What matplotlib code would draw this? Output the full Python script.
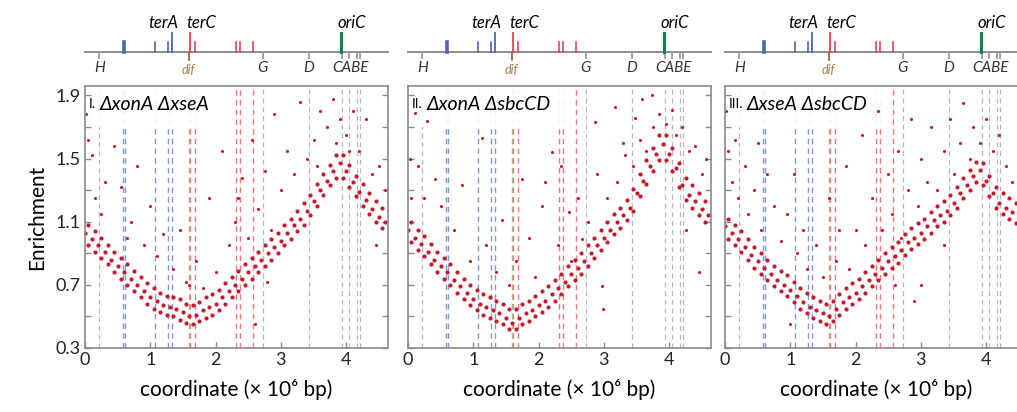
import matplotlib
matplotlib.use("Agg")
import matplotlib.pyplot as plt
from matplotlib.patches import Rectangle

plt.rcParams['font.family'] = ['Lato', 'DejaVu Sans']

# genome coordinate grid (x 10^6 bp) used for the main band
coord = [0.0, 0.1, 0.2, 0.3, 0.4, 0.5, 0.6, 0.7, 0.8, 0.9, 1.0, 1.1, 1.2, 1.3, 1.4, 1.5,
         1.6, 1.7, 1.8, 1.9, 2.0, 2.1, 2.2, 2.3, 2.4, 2.5, 2.6, 2.7, 2.8, 2.9, 3.0, 3.1,
         3.2, 3.3, 3.4, 3.5, 3.6, 3.7, 3.8, 3.9, 4.0, 4.1, 4.2, 4.3, 4.4, 4.5, 4.6]
coord_half = [0.05, 0.15, 0.25, 0.35, 0.45, 0.55, 0.65, 0.75, 0.85, 0.95, 1.05, 1.15,
              1.25, 1.35, 1.45, 1.55, 1.65, 1.75, 1.85, 1.95, 2.05, 2.15, 2.25, 2.35,
              2.45, 2.55, 2.65, 2.75, 2.85, 2.95, 3.05, 3.15, 3.25, 3.35, 3.45, 3.55,
              3.65, 3.75, 3.85, 3.95, 4.05, 4.15, 4.25, 4.35, 4.45, 4.55]

# panel I  (xonA xseA)
mid1 = [1.03, 0.99, 0.95, 0.91, 0.86, 0.82, 0.78, 0.74, 0.70, 0.66, 0.62, 0.60, 0.57, 0.56, 0.55, 0.53,
        0.50, 0.51, 0.54, 0.56, 0.58, 0.62, 0.66, 0.70, 0.74, 0.78, 0.82, 0.86, 0.90, 0.94, 0.98, 1.03,
        1.08, 1.12, 1.17, 1.23, 1.30, 1.36, 1.42, 1.47, 1.42, 1.35, 1.29, 1.24, 1.18, 1.13, 1.10]
lo1 = [0.95, 0.91, 0.87, 0.83, 0.78, 0.74, 0.70, 0.66, 0.62, 0.58, 0.55, 0.53, 0.51, 0.50, 0.48, 0.46,
       0.45, 0.47, 0.49, 0.51, 0.54, 0.58, 0.62, 0.66, 0.70, 0.74, 0.78, 0.82, 0.86, 0.90, 0.95, 0.99,
       1.04, 1.08, 1.14, 1.20, 1.27, 1.33, 1.38, 1.38, 1.32, 1.26, 1.20, 1.15, 1.10, 1.06]
hi1 = [1.08, 1.04, 1.00, 0.95, 0.91, 0.87, 0.83, 0.79, 0.75, 0.71, 0.68, 0.65, 0.63, 0.62, 0.61, 0.58,
       0.57, 0.59, 0.62, 0.64, 0.67, 0.71, 0.75, 0.79, 0.83, 0.87, 0.91, 0.95, 0.99, 1.03, 1.08, 1.12,
       1.17, 1.22, 1.27, 1.34, 1.40, 1.46, 1.52, 1.52, 1.46, 1.39, 1.34, 1.28, 1.23, 1.19]
out_x1 = [0.02, 0.05, 0.10, 0.15, 0.30, 0.45, 0.55, 0.70, 0.80, 0.90, 1.00, 1.10, 1.20, 1.35, 1.45,
          1.55, 1.70, 1.80, 1.90, 2.00, 2.10, 2.20, 2.30, 2.40, 2.50, 2.55, 2.65, 2.75, 2.85, 2.90,
          3.00, 3.10, 3.20, 3.30, 3.40, 3.50, 3.60, 3.70, 3.80, 3.90, 4.00, 4.10, 4.20, 4.30, 4.40,
          4.50, 4.60, 2.78, 2.60, 4.45, 0.25, 0.65, 1.60, 2.35, 3.55, 3.85, 4.05]
out_y1 = [1.78, 1.62, 1.52, 1.25, 1.35, 1.58, 1.32, 1.10, 1.45, 0.95, 1.20, 0.88, 1.02, 0.80, 1.05,
          0.72, 0.85, 0.68, 1.25, 0.78, 1.55, 0.95, 1.10, 1.38, 1.00, 1.62, 1.18, 1.42, 1.05, 1.78,
          1.30, 1.55, 1.40, 1.86, 1.50, 1.62, 1.80, 1.70, 1.88, 1.75, 1.65, 1.80, 1.55, 1.75, 1.40,
          1.45, 1.30, 0.72, 0.45, 0.95, 1.15, 1.00, 0.70, 1.25, 1.45, 1.60, 1.55]

# panel II  (xonA sbcCD)
mid2 = [1.05, 1.00, 0.96, 0.91, 0.86, 0.82, 0.78, 0.73, 0.69, 0.65, 0.61, 0.58, 0.56, 0.54, 0.52, 0.49,
        0.46, 0.49, 0.52, 0.54, 0.57, 0.60, 0.64, 0.68, 0.72, 0.77, 0.81, 0.85, 0.90, 0.95, 1.00, 1.05,
        1.10, 1.14, 1.19, 1.28, 1.36, 1.45, 1.53, 1.59, 1.53, 1.44, 1.33, 1.27, 1.23, 1.18, 1.14]
lo2 = [0.97, 0.92, 0.88, 0.83, 0.78, 0.74, 0.70, 0.65, 0.61, 0.57, 0.54, 0.51, 0.49, 0.47, 0.45, 0.42,
       0.42, 0.45, 0.47, 0.50, 0.53, 0.56, 0.60, 0.64, 0.69, 0.73, 0.77, 0.82, 0.87, 0.92, 0.97, 1.02,
       1.06, 1.11, 1.17, 1.26, 1.34, 1.42, 1.49, 1.49, 1.42, 1.32, 1.24, 1.19, 1.14, 1.10]
hi2 = [1.10, 1.05, 1.01, 0.96, 0.91, 0.87, 0.83, 0.78, 0.74, 0.70, 0.67, 0.64, 0.62, 0.60, 0.58, 0.55,
       0.55, 0.58, 0.60, 0.63, 0.66, 0.69, 0.73, 0.77, 0.82, 0.86, 0.90, 0.95, 1.00, 1.05, 1.10, 1.15,
       1.19, 1.24, 1.31, 1.40, 1.49, 1.57, 1.65, 1.65, 1.57, 1.47, 1.38, 1.33, 1.28, 1.23]
out_x2 = [0.11, 0.29, 0.03, 0.41, 0.82, 1.13, 1.44, 1.74, 2.10, 2.20, 2.46, 2.67, 2.86, 2.97, 2.99,
          3.17, 3.32, 3.48, 3.58, 3.73, 4.04, 4.20, 4.40, 4.56, 4.46, 4.25, 0.50, 0.70, 0.95, 1.20,
          1.35, 1.55, 1.65, 1.85, 1.95, 2.05, 2.30, 2.35, 2.50, 2.60, 2.75, 2.90, 3.05, 3.20, 3.30,
          3.45, 3.55, 3.65, 3.75, 3.85, 3.95, 4.10, 4.30, 4.50, 0.25, 0.05, 0.15]
out_y2 = [1.79, 1.74, 1.50, 1.37, 1.33, 1.63, 1.11, 1.37, 1.35, 1.54, 1.16, 0.99, 1.73, 0.69, 0.55,
          1.83, 1.52, 1.76, 1.88, 1.90, 1.81, 1.70, 1.58, 1.50, 0.78, 1.05, 1.20, 1.05, 0.85, 0.95,
          0.78, 0.70, 0.85, 1.00, 0.75, 1.20, 0.95, 1.45, 0.85, 1.25, 1.10, 1.40, 1.25, 1.35, 1.60,
          1.45, 1.62, 1.55, 1.70, 1.78, 1.72, 1.65, 1.55, 1.40, 1.25, 1.25, 1.45]

# panel III  (xseA sbcCD)
mid3 = [1.07, 1.03, 0.99, 0.94, 0.89, 0.85, 0.81, 0.77, 0.73, 0.70, 0.67, 0.63, 0.59, 0.56, 0.54, 0.52,
        0.50, 0.55, 0.59, 0.62, 0.65, 0.69, 0.73, 0.77, 0.81, 0.85, 0.88, 0.92, 0.97, 1.00, 1.03, 1.07,
        1.11, 1.14, 1.17, 1.22, 1.28, 1.33, 1.39, 1.43, 1.36, 1.28, 1.22, 1.19, 1.16, 1.13, 1.10]
lo3 = [0.99, 0.95, 0.91, 0.86, 0.81, 0.77, 0.73, 0.69, 0.66, 0.63, 0.59, 0.55, 0.52, 0.49, 0.47, 0.45,
       0.47, 0.51, 0.55, 0.58, 0.61, 0.65, 0.69, 0.73, 0.77, 0.81, 0.84, 0.89, 0.93, 0.96, 0.99, 1.03,
       1.07, 1.10, 1.14, 1.19, 1.25, 1.30, 1.35, 1.33, 1.26, 1.19, 1.15, 1.12, 1.09, 1.06]
hi3 = [1.12, 1.08, 1.04, 0.99, 0.94, 0.90, 0.86, 0.82, 0.79, 0.76, 0.72, 0.68, 0.65, 0.62, 0.60, 0.58,
       0.60, 0.64, 0.68, 0.71, 0.74, 0.78, 0.82, 0.86, 0.90, 0.94, 0.97, 1.02, 1.06, 1.09, 1.12, 1.16,
       1.20, 1.23, 1.27, 1.32, 1.38, 1.43, 1.48, 1.47, 1.39, 1.32, 1.28, 1.25, 1.22, 1.19]
out_x3 = [0.02, 0.05, 0.10, 0.15, 0.20, 0.30, 0.35, 0.45, 0.50, 0.55, 0.65, 0.75, 0.85, 0.95, 1.05,
          1.10, 1.20, 1.25, 1.40, 1.50, 1.60, 1.70, 1.75, 1.85, 1.90, 2.00, 2.10, 2.15, 2.25, 2.35,
          2.40, 2.50, 2.55, 2.65, 2.70, 2.80, 2.85, 2.95, 3.00, 3.10, 3.15, 3.25, 3.35, 3.45, 3.50,
          3.60, 3.65, 3.75, 3.80, 3.90, 4.00, 4.10, 4.20, 4.30, 4.40, 3.00, 3.35, 1.00, 2.60, 2.90]
out_y3 = [1.80, 1.55, 1.35, 1.62, 1.25, 1.45, 1.15, 1.30, 1.60, 1.05, 1.40, 1.20, 0.98, 1.15, 1.40,
          0.90, 1.05, 0.80, 0.95, 0.75, 1.25, 0.85, 1.05, 1.45, 0.80, 1.05, 1.65, 0.95, 1.25, 1.80,
          1.05, 1.40, 1.15, 1.55, 1.00, 1.30, 1.75, 1.20, 1.50, 1.35, 1.70, 1.30, 1.55, 1.75, 1.40,
          1.60, 1.85, 1.50, 1.70, 1.60, 1.75, 1.55, 1.65, 1.45, 1.35, 0.70, 0.95, 0.45, 0.70, 0.60]

numerals = ["I.", "II.", "III."]
strains = ["ΔxonA ΔxseA", "ΔxonA ΔsbcCD", "ΔxseA ΔsbcCD"]

# genome landmarks (x 10^6 bp)
rrn_pos = [0.22, 2.72, 3.43, 3.94, 4.05, 4.17, 4.21]
ter_blue = [0.585, 0.615, 1.07, 1.27, 1.33]
ter_red = [1.61, 1.68, 2.31, 2.37, 2.57]
dif_pos = 1.59
terA_pos = 1.33
terC_pos = 1.61
oriC_pos = 3.92

panels = [(mid1, lo1, hi1, out_x1, out_y1),
          (mid2, lo2, hi2, out_x2, out_y2),
          (mid3, lo3, hi3, out_x3, out_y3)]

W, H = 1017, 412
fig = plt.figure(figsize=(W / 100, H / 100), dpi=100)

lefts = [85, 408, 725]
box_w = [2.30, 2.52, 2.56]
dot_col = '#c41a2c'
spine_col = '#8a8a8a'

for i, (mid, lo, hi, ox, oy) in enumerate(panels):
    x0 = lefts[i]
    ax = fig.add_axes([x0 / W, (H - 348) / H, 303 / W, 262 / H])
    ax.set_xlim(0, 4.64)
    ax.set_ylim(0.3, 1.96)

    # landmark lines
    for p in rrn_pos:
        ax.axvline(p, color='#b8b8b8', lw=0.9, ls=(0, (4, 3)), zorder=1)
    for p in ter_blue:
        ax.axvline(p, color='#8198d2', lw=1.0, ls=(0, (4, 3)), zorder=1)
    for p in ter_red:
        ax.axvline(p, color='#f07880', lw=1.0, ls=(0, (4, 3)), zorder=1)
    ax.axvline(dif_pos, color='#b9ad80', lw=1.0, ls=(0, (4, 3)), zorder=1)

    ax.add_patch(Rectangle((0, 1.70), box_w[i], 0.3, facecolor='white',
                           edgecolor='none', alpha=0.9, zorder=1.5))

    ax.scatter(coord, mid, s=9, color=dot_col, linewidths=0, zorder=2)
    ax.scatter(coord_half, lo, s=9, color=dot_col, linewidths=0, zorder=2)
    ax.scatter(coord_half, hi, s=9, color=dot_col, linewidths=0, zorder=2)
    ax.scatter(ox, oy, s=5, color=dot_col, linewidths=0, zorder=2)

    t = ax.text(0.05, 1.845, numerals[i], fontsize=10, va='center', ha='left', zorder=3)
    ax.annotate(strains[i], xy=(1, 0.5), xycoords=t, xytext=(3, 0),
                textcoords='offset points', va='center', ha='left',
                fontsize=14, style='italic', zorder=3)

    ax.set_xticks([0, 1, 2, 3, 4])
    ax.set_yticks([0.3, 0.5, 0.7, 0.9, 1.1, 1.3, 1.5, 1.7, 1.9])
    if i == 0:
        ax.set_yticklabels(['0.3', '', '0.7', '', '1.1', '', '1.5', '', '1.9'])
        ax.set_ylabel('Enrichment', fontsize=15, labelpad=6)
    else:
        ax.set_yticklabels([])
    ax.tick_params(direction='in', length=4, width=1, colors=spine_col,
                   labelcolor='#222222', labelsize=13, right=True, pad=3)
    ax.set_xlabel('coordinate (× 10⁶ bp)', fontsize=15, labelpad=8)
    for s in ax.spines.values():
        s.set_color(spine_col)
        s.set_linewidth(1.2)

    # genome map strip above the panel
    sx = fig.add_axes([x0 / W, (H - 78) / H, 303 / W, 68 / H])
    sx.set_xlim(0, 4.64)
    sx.set_ylim(0, 1)
    sx.axis('off')
    sx.plot([0, 4.64], [0.382, 0.382], color='#8c8c8c', lw=1.4, clip_on=False)
    for p in rrn_pos:
        sx.plot([p, p], [0.30, 0.382], color='#9a9a9a', lw=1.3)
    sx.plot([dif_pos, dif_pos], [0.26, 0.382], color='#9a6a38', lw=1.3)
    sx.plot([0.60, 0.60], [0.382, 0.53], color='#4a68b5', lw=2.6)
    for p in [1.07, 1.27]:
        sx.plot([p, p], [0.382, 0.53], color='#4a68b5', lw=1.2)
    sx.plot([terA_pos, terA_pos], [0.382, 0.66], color='#4a68b5', lw=1.3)
    sx.plot([terC_pos, terC_pos], [0.382, 0.66], color='#e8424f', lw=1.3)
    for p in [1.68, 2.31, 2.37, 2.57]:
        sx.plot([p, p], [0.382, 0.53], color='#e8424f', lw=1.2)
    sx.plot([oriC_pos, oriC_pos], [0.382, 0.66], color='#13804a', lw=2.2)

    sx.text(1.20, 0.74, 'terA', style='italic', fontsize=12, ha='center', va='baseline')
    sx.text(1.56, 0.74, 'terC', style='italic', fontsize=12, ha='left', va='baseline')
    sx.text(4.08, 0.74, 'oriC', style='italic', fontsize=12, ha='center', va='baseline')
    sx.text(0.22, 0.14, 'H', style='italic', fontsize=11, ha='center', va='center', color='#333333')
    sx.text(2.72, 0.14, 'G', style='italic', fontsize=11, ha='center', va='center', color='#333333')
    sx.text(3.43, 0.14, 'D', style='italic', fontsize=11, ha='center', va='center', color='#333333')
    sx.text(4.07, 0.14, 'CABE', style='italic', fontsize=11, ha='center', va='center', color='#333333')
    sx.text(dif_pos, 0.12, 'dif', style='italic', fontsize=9, ha='center', va='center', color='#a57a4e')

fig.savefig('out.png', dpi=100)
